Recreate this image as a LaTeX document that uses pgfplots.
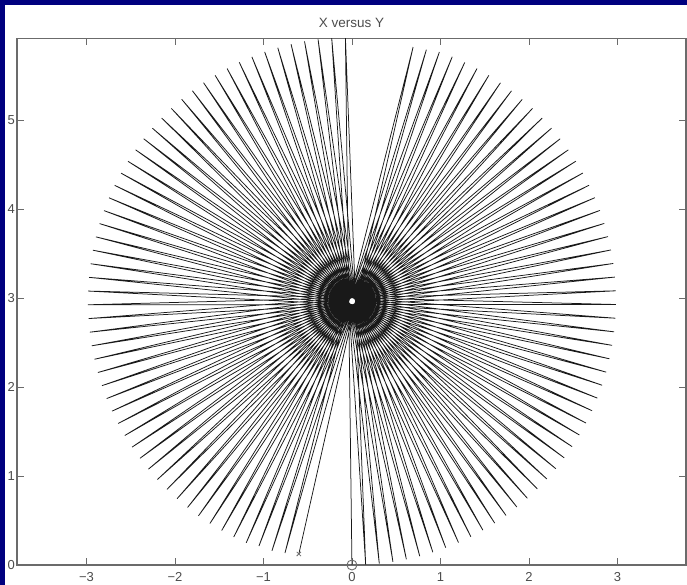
\documentclass[border=0pt]{standalone}
\usepackage{fontspec}
\setmainfont{Liberation Sans}
\usepackage{pgfplots}
\pgfplotsset{compat=1.18}
\definecolor{framenavy}{HTML}{00007F}
\definecolor{axisgray}{gray}{0.42}
\definecolor{textgray}{gray}{0.30}
\definecolor{raygray}{gray}{0.10}
\begin{document}
\begin{tikzpicture}[x=1pt,y=1pt]
\path[use as bounding box] (0,0) rectangle (687,585);
\fill[framenavy] (0,580) rectangle (687,585);
\fill[framenavy] (0,0) rectangle (5,585);
\begin{axis}[
  at={(17pt,20pt)}, anchor=south west,
  scale only axis, width=669pt, height=526.5pt,
  xmin=-3.785, xmax=3.775, ymin=0, ymax=5.916,
  xtick={-3,-2,-1,0,1,2,3}, ytick={0,1,2,3,4,5},
  xticklabels={−3,−2,−1,0,1,2,3},
  tick align=inside, major tick length=7pt,
  every tick/.style={axisgray,line width=0.8pt},
  axis line style={axisgray,line width=1.1pt},
  /pgf/number format/assume math mode=true,
  tick label style={font=\fontsize{13}{15}\selectfont,text=textgray},
  xticklabel style={yshift=-4pt},
  yticklabel style={xshift=1.5pt},
  title={X versus Y},
  title style={font=\fontsize{13.5}{15}\selectfont,text=textgray,at={(0.5,1)},anchor=south,yshift=1.5pt},
]
\addplot[raygray,line width=0.75pt,line join=miter,miter limit=1,no marks] coordinates {
(-0.600,0.124) (0.691,5.820) (-0.757,0.135) (0.841,5.790)
(-0.904,0.160) (0.988,5.764) (-1.051,0.213) (1.133,5.710)
(-1.195,0.249) (1.275,5.647) (-1.336,0.314) (1.413,5.578)
(-1.472,0.387) (1.547,5.502) (-1.605,0.466) (1.678,5.418)
(-1.734,0.553) (1.803,5.328) (-1.858,0.646) (1.924,5.232)
(-1.976,0.745) (2.040,5.130) (-2.090,0.850) (2.150,5.022)
(-2.198,0.961) (2.255,4.908) (-2.300,1.077) (2.353,4.789)
(-2.395,1.199) (2.445,4.665) (-2.484,1.325) (2.530,4.537)
(-2.567,1.455) (2.609,4.404) (-2.642,1.590) (2.680,4.267)
(-2.711,1.729) (2.745,4.127) (-2.772,1.870) (2.802,3.984)
(-2.825,2.015) (2.851,3.838) (-2.871,2.163) (2.893,3.690)
(-2.909,2.312) (2.927,3.540) (-2.940,2.463) (2.953,3.388)
(-2.962,2.616) (2.971,3.235) (-2.976,2.769) (2.981,3.081)
(-2.983,2.924) (2.983,2.927) (-2.981,3.078) (2.977,2.773)
(-2.971,3.232) (2.963,2.620) (-2.953,3.385) (2.940,2.468)
(-2.927,3.537) (2.910,2.317) (-2.893,3.687) (2.873,2.167)
(-2.852,3.836) (2.827,2.020) (-2.802,3.982) (2.774,1.875)
(-2.745,4.126) (2.713,1.734) (-2.681,4.266) (2.645,1.595)
(-2.609,4.403) (2.570,1.461) (-2.531,4.536) (2.488,1.330)
(-2.445,4.665) (2.399,1.204) (-2.353,4.789) (2.304,1.082)
(-2.255,4.908) (2.203,0.966) (-2.150,5.022) (2.095,0.855)
(-2.040,5.130) (1.982,0.750) (-1.924,5.233) (1.864,0.651)
(-1.803,5.329) (1.741,0.557) (-1.677,5.419) (1.613,0.471)
(-1.546,5.502) (1.480,0.391) (-1.411,5.579) (1.344,0.318)
(-1.273,5.648) (1.204,0.252) (-1.131,5.710) (1.060,0.194)
(-0.986,5.765) (0.914,0.143) (-0.838,5.812) (0.766,0.099)
(-0.688,5.852) (0.615,0.064) (-0.536,5.884) (0.463,0.036)
(-0.383,5.907) (0.309,0.016) (-0.229,5.923) (0.155,0.004)
(-0.074,5.931) (0.000,0.000)
};
\addplot[only marks,mark=x,mark size=3pt,axisgray,mark options={line width=0.8pt}] coordinates {(-0.600,0.124)};
\addplot[only marks,mark=o,mark size=5pt,axisgray,mark options={line width=0.9pt,fill=none}] coordinates {(0,0)};
\end{axis}
\end{tikzpicture}
\end{document}
